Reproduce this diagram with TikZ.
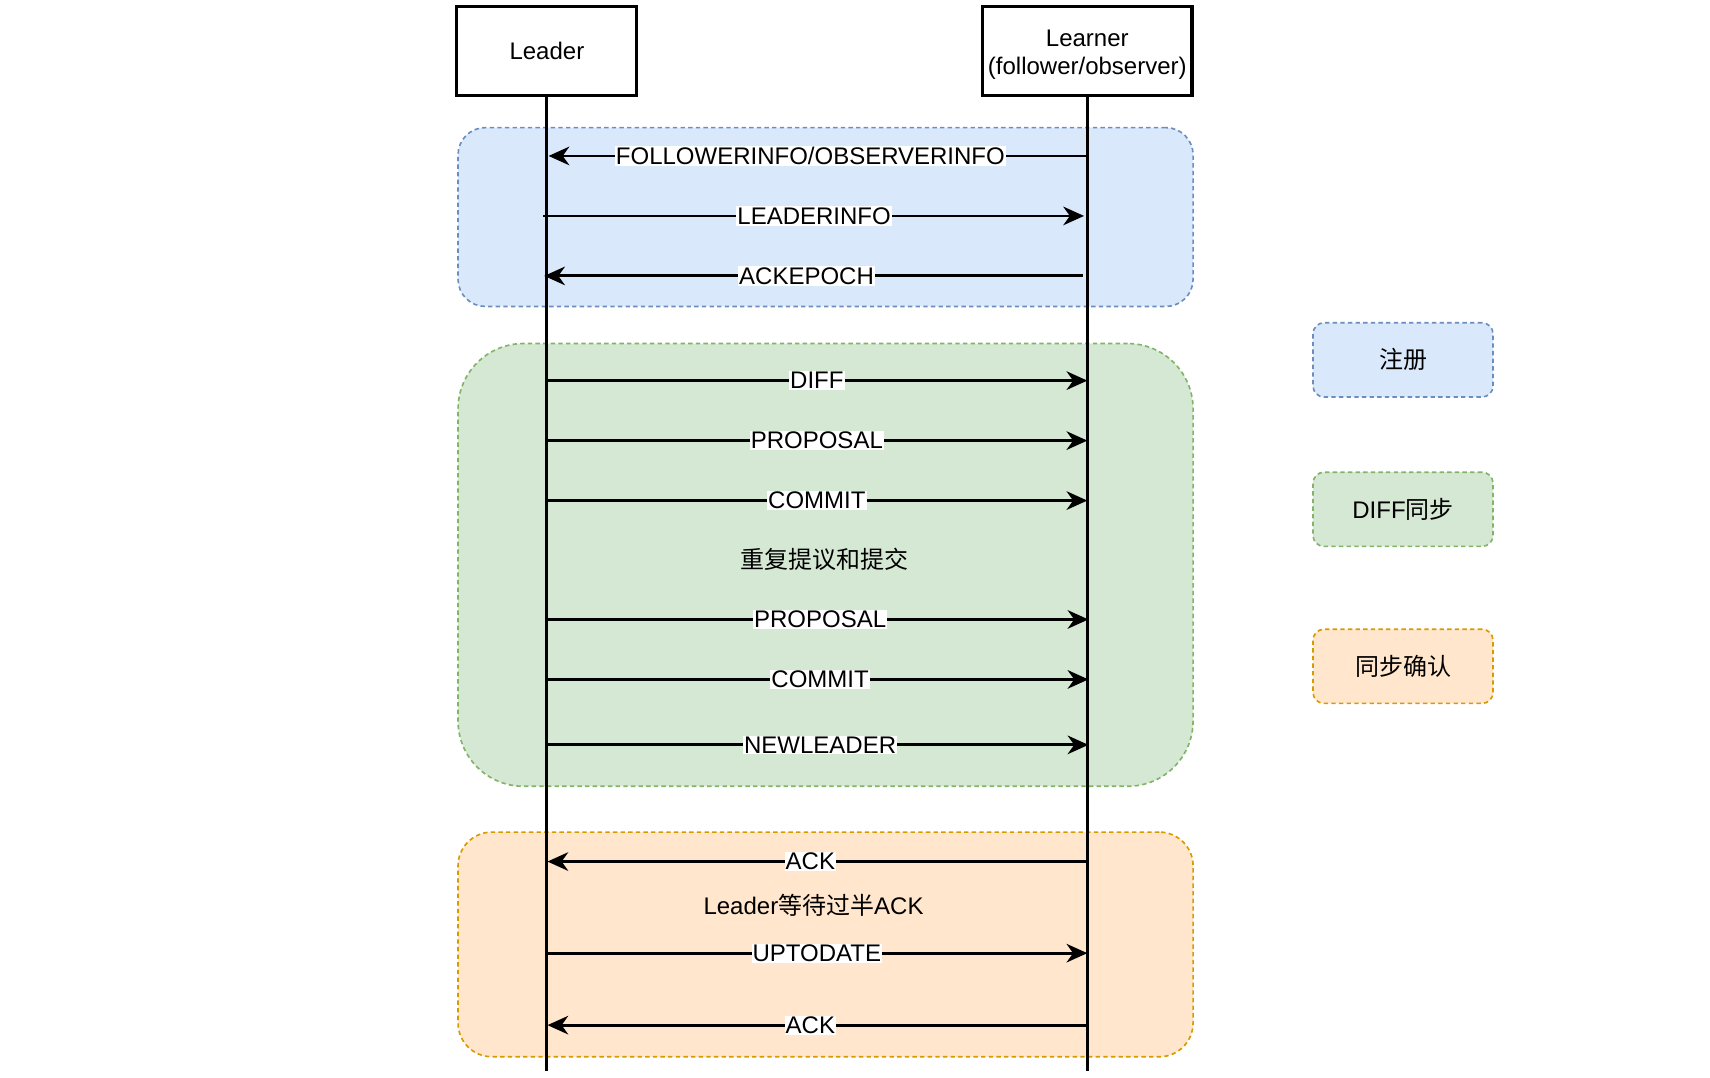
\documentclass[tikz,border=0pt]{standalone}
\usepackage{fontspec}
\setmainfont{Liberation Sans}
\newfontfamily\cjk{Noto Sans CJK SC}
\usetikzlibrary{arrows.meta}
\definecolor{bluefill}{HTML}{DAE8FC}
\definecolor{bluestroke}{HTML}{6C8EBF}
\definecolor{greenfill}{HTML}{D5E8D4}
\definecolor{greenstroke}{HTML}{82B366}
\definecolor{orangefill}{HTML}{FFE6CC}
\definecolor{orangestroke}{HTML}{D79B00}
\begin{document}
\begin{tikzpicture}[x=1pt,y=-1pt,
  every node/.style={font=\fontsize{22}{26}\selectfont},
  region/.style={line width=1.5pt, dash pattern=on 4pt off 3pt, minimum width=674pt, inner sep=0pt},
  actorbox/.style={draw=black, fill=white, line width=2.8pt, minimum height=82pt, align=center, inner sep=0pt},
  legendbox/.style={line width=1.5pt, dash pattern=on 4pt off 3pt, minimum width=165pt, minimum height=68pt, rounded corners=10pt, inner sep=0pt},
  lifeline/.style={draw=black, line width=2.6pt},
  msg/.style={draw=black, line width=2.6pt, -{Stealth[length=19pt,width=17pt,inset=6pt]}},
  lbl/.style={fill=white, inner sep=1pt}
]
\useasboundingbox (0,0) rectangle (1568,988);

% regions
\node[region, draw=bluestroke, fill=bluefill, minimum height=164pt, rounded corners=25pt] (regA) at (757,199) {};
\node[region, draw=greenstroke, fill=greenfill, minimum height=406pt, rounded corners=60pt] (regB) at (757,518) {};
\node[region, draw=orangestroke, fill=orangefill, minimum height=206pt, rounded corners=31pt] (regC) at (757,866) {};

% legend
\node[legendbox, draw=bluestroke, fill=bluefill] (legA) at (1286.5,330) {\cjk 注册};
\node[legendbox, draw=greenstroke, fill=greenfill] (legB) at (1286.5,467) {DIFF{\cjk 同步}};
\node[legendbox, draw=orangestroke, fill=orangefill] (legC) at (1286.5,611) {\cjk 同步确认};

% actors
\node[actorbox, minimum width=165pt] (leader) at (501.5,47) {Leader};
\node[actorbox, minimum width=192pt] (learner) at (997,47) {\raisebox{-3pt}[\height][\depth]{\begin{tabular}{@{}c@{}}Learner\\(follower/observer)\end{tabular}}};

% lifelines
\coordinate (leaderEnd) at (501,982);
\coordinate (learnerEnd) at (997,982);
\draw[lifeline] (leaderEnd |- leader.south) -- (leaderEnd);
\draw[lifeline] (learnerEnd |- learner.south) -- (learnerEnd);

% message end points
\coordinate (m1s) at (997,143); \coordinate (m1e) at (503,143);
\coordinate (m2s) at (498,198); \coordinate (m2e) at (994,198);
\coordinate (m3s) at (993,253); \coordinate (m3e) at (499,253);
\coordinate (m4s) at (501,349); \coordinate (m4e) at (997,349);
\coordinate (m5s) at (501,404); \coordinate (m5e) at (997,404);
\coordinate (m6s) at (501,459); \coordinate (m6e) at (997,459);
\coordinate (m7s) at (501,568); \coordinate (m7e) at (998,568);
\coordinate (m8s) at (501,623); \coordinate (m8e) at (998,623);
\coordinate (m9s) at (501,683); \coordinate (m9e) at (998,683);
\coordinate (m10s) at (997,790); \coordinate (m10e) at (502,790);
\coordinate (m11s) at (501,874); \coordinate (m11e) at (997,874);
\coordinate (m12s) at (997,940); \coordinate (m12e) at (502,940);

% messages
\draw[msg] (m1s) -- node[lbl, pos=0.514] (t1) {FOLLOWERINFO/OBSERVERINFO} (m1e);
\draw[msg] (m2s) -- node[lbl, pos=0.501] (t2) {LEADERINFO} (m2e);
\draw[msg] (m3s) -- node[lbl, pos=0.513] (t3) {ACKEPOCH} (m3e);
\draw[msg] (m4s) -- node[lbl] (t4) {DIFF} (m4e);
\draw[msg] (m5s) -- node[lbl] (t5) {PROPOSAL} (m5e);
\draw[msg] (m6s) -- node[lbl] (t6) {COMMIT} (m6e);
\node (rep) at (756,513) {\cjk 重复提议和提交};
\draw[msg] (m7s) -- node[lbl, pos=0.505] (t7) {PROPOSAL} (m7e);
\draw[msg] (m8s) -- node[lbl, pos=0.505] (t8) {COMMIT} (m8e);
\draw[msg] (m9s) -- node[lbl, pos=0.505] (t9) {NEWLEADER} (m9e);
\draw[msg] (m10s) -- node[lbl, pos=0.513] (t10) {ACK} (m10e);
\node (wait) at (746,830) {Leader{\cjk 等待过半}ACK};
\draw[msg] (m11s) -- node[lbl] (t11) {UPTODATE} (m11e);
\draw[msg] (m12s) -- node[lbl, pos=0.513] (t12) {ACK} (m12e);
\end{tikzpicture}
\end{document}
